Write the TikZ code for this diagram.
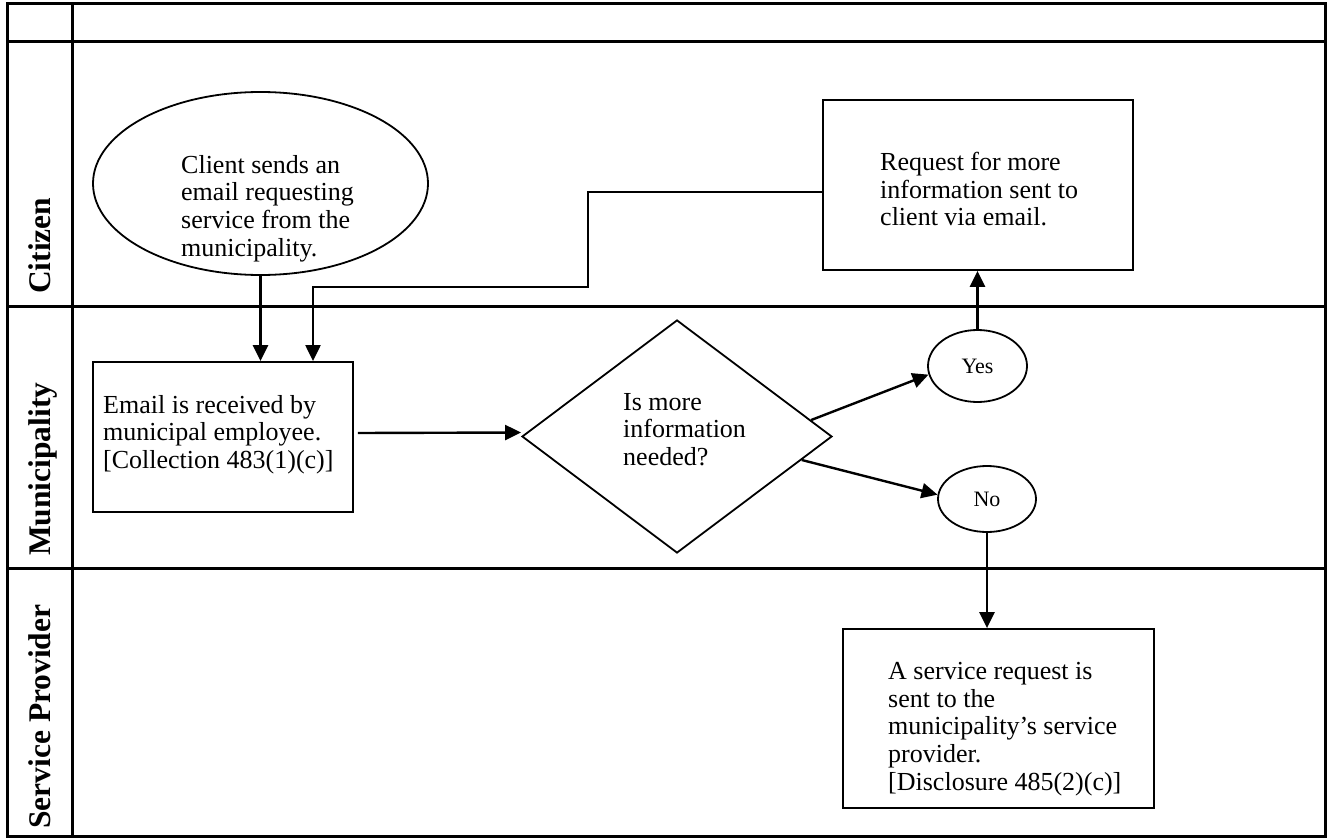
\documentclass[tikz,border=0pt]{standalone}
\usepackage{fontspec}
\setmainfont{Liberation Serif}
\usetikzlibrary{shapes.geometric,arrows.meta,calc}
\begin{document}
\begin{tikzpicture}[x=1pt,y=-1pt,
  frame/.style={line width=3pt},
  shapebox/.style={draw, line width=1.8pt, inner sep=0pt},
  body/.style={font=\fontsize{26}{27.7}\selectfont, align=left, inner sep=0pt, anchor=north west},
  lane/.style={font=\fontsize{31.5}{31.5}\selectfont\bfseries, rotate=90, anchor=base west, inner sep=0pt},
  arr/.style={line width=2.4pt, -{Triangle[length=16pt,width=15pt]}},
  small/.style={font=\fontsize{22}{22}\selectfont}
]
\useasboundingbox (0,0) rectangle (1328,840);
% table frame
\draw[frame] (7,4) rectangle (1325,836);
\draw[frame] (72,4) -- (72,836);
\draw[frame] (7,42) -- (1325,42);
\draw[frame] (7,306) -- (1325,306);
\draw[frame] (7,568) -- (1325,568);
% lane labels
\node[lane] (citizen) at (50,294) {Citizen};
\node[lane] (muni) at (50,556) {Municipality};
\node[lane] (sp) at (50,829) {Service Provider};
% shapes
\node[shapebox, ellipse, minimum width=335pt, minimum height=183pt] (client) at (260.5,183.5) {};
\node[shapebox, rectangle, minimum width=260pt, minimum height=150pt] (email) at (223,437) {};
\node[shapebox, diamond, minimum width=310pt, minimum height=233pt] (decide) at (677,436.5) {};
\node[shapebox, ellipse, small, minimum width=99pt, minimum height=72pt] (yes) at (977.5,366) {Yes};
\node[shapebox, ellipse, small, minimum width=98pt, minimum height=66pt] (no) at (987,499) {No};
\node[shapebox, rectangle, minimum width=310pt, minimum height=170pt] (request) at (978,185) {};
\node[shapebox, rectangle, minimum width=311pt, minimum height=179pt] (service) at (998.5,718.5) {};
% texts
\node[body] (clientT) at (181,155) {Client sends an\\email requesting\\service from the\\municipality.};
\node[body] (requestT) at (880,152) {Request for more\\information sent to\\client via email.};
\node[body] (emailT) at (103,395) {Email is received by\\municipal employee.\\{[}Collection 483(1)(c){]}};
\node[body] (decideT) at (623,393) {Is more\\information\\needed?};
\node[body] (serviceT) at (888,662) {A service request is\\sent to the\\municipality’s service\\provider.\\{[}Disclosure 485(2)(c){]}};
% connectors
\coordinate (b1) at (588,287);
\coordinate (t2) at (313,287);
\draw[arr] (client.south) -- (client.south |- email.north);
\draw[arr, line width=2.2pt] ([yshift=-7pt]request.west) -| (b1) -- (t2) -- (t2 |- email.north);
\draw[arr] ([xshift=4pt,yshift=4pt]email.east) -- ([yshift=4pt]decide.west);
\draw[arr] ($(decide.north)!0.86!(decide.east)$) -- (yes.190);
\draw[arr] ($(decide.east)!0.2!(decide.south)$) -- (no.175);
\draw[arr] (yes.north) -- (yes.north |- request.south);
\draw[arr] (no.south) -- (no.south |- service.north);
\end{tikzpicture}
\end{document}
